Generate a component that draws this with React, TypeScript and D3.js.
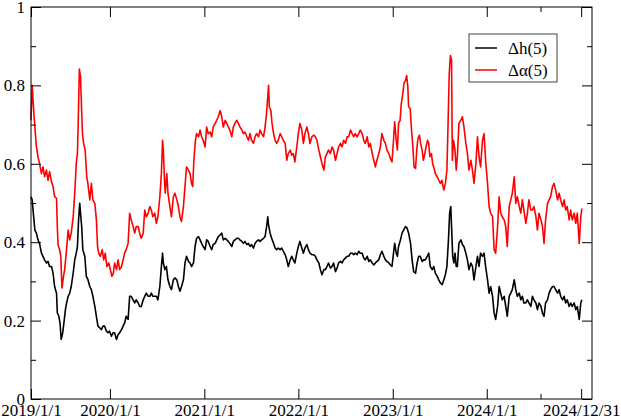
import { useEffect, useRef } from "react";
import * as d3 from "d3";

// x is a trading-day index counted from 2019/1/1
const tickDays = [0, 204, 448, 691, 935, 1178, 1422];
const tickLabels = ["2019/1/1", "2020/1/1", "2021/1/1", "2022/1/1", "2023/1/1", "2024/1/1", "2024/12/31"];
const minorTickDays = [1317];
const yMajor = [0, 0.2, 0.4, 0.6, 0.8, 1];
const yMinor = [0.1, 0.3, 0.5, 0.7, 0.9];
const seriesNames = ["\u0394h(5)", "\u0394\u03b1(5)"];
const seriesColors = ["#000000", "#ff0000"];

const deltaH: [number, number][] = [
  [0, 0.516], [3, 0.508], [6, 0.474], [10, 0.431], [14, 0.423], [18, 0.406], [22, 0.397], [27, 0.372],
  [31, 0.364], [35, 0.355], [40, 0.347], [44, 0.351], [48, 0.338], [53, 0.338], [57, 0.321], [61, 0.287],
  [66, 0.27], [68, 0.22], [72, 0.211], [75, 0.194], [78, 0.152], [82, 0.169], [85, 0.194], [89, 0.228],
  [92, 0.245], [96, 0.262], [100, 0.27], [104, 0.287], [109, 0.321], [113, 0.355], [117, 0.372], [120, 0.389],
  [123, 0.457], [126, 0.499], [128, 0.474], [131, 0.44], [134, 0.381], [139, 0.364], [143, 0.313], [147, 0.305],
  [152, 0.287], [156, 0.279], [160, 0.262], [165, 0.236], [169, 0.211], [173, 0.186], [178, 0.181], [182, 0.177],
  [186, 0.186], [190, 0.186], [195, 0.173], [199, 0.169], [203, 0.173], [208, 0.16], [212, 0.169], [216, 0.169],
  [221, 0.152], [225, 0.164], [229, 0.169], [234, 0.177], [238, 0.186], [242, 0.194], [246, 0.211], [251, 0.203],
  [255, 0.262], [259, 0.262], [264, 0.253], [268, 0.245], [272, 0.253], [277, 0.245], [281, 0.236], [285, 0.236],
  [290, 0.253], [294, 0.262], [298, 0.27], [303, 0.262], [307, 0.262], [311, 0.27], [315, 0.262], [320, 0.262],
  [324, 0.262], [328, 0.253], [333, 0.287], [337, 0.338], [340, 0.372], [342, 0.347], [346, 0.33], [350, 0.338],
  [354, 0.304], [359, 0.287], [363, 0.279], [368, 0.304], [372, 0.309], [377, 0.304], [381, 0.287], [385, 0.275],
  [389, 0.287], [394, 0.304], [398, 0.347], [402, 0.364], [407, 0.351], [411, 0.347], [415, 0.338], [420, 0.347],
  [424, 0.389], [428, 0.41], [433, 0.414], [437, 0.406], [441, 0.397], [445, 0.389], [450, 0.381], [454, 0.406],
  [458, 0.402], [463, 0.389], [467, 0.381], [471, 0.394], [476, 0.397], [480, 0.406], [484, 0.414], [489, 0.419],
  [493, 0.423], [497, 0.406], [502, 0.41], [506, 0.406], [510, 0.402], [514, 0.397], [519, 0.389], [523, 0.402],
  [527, 0.406], [532, 0.41], [536, 0.41], [540, 0.406], [545, 0.402], [549, 0.397], [553, 0.402], [558, 0.394],
  [562, 0.397], [566, 0.389], [570, 0.394], [575, 0.385], [579, 0.397], [583, 0.402], [588, 0.406], [592, 0.402],
  [596, 0.406], [601, 0.41], [605, 0.414], [609, 0.44], [612, 0.465], [614, 0.444], [618, 0.423], [622, 0.41],
  [627, 0.397], [631, 0.385], [635, 0.381], [639, 0.385], [644, 0.381], [648, 0.385], [652, 0.377], [657, 0.368],
  [661, 0.355], [665, 0.338], [670, 0.355], [674, 0.364], [678, 0.355], [682, 0.347], [687, 0.372], [691, 0.389],
  [695, 0.402], [700, 0.385], [704, 0.372], [708, 0.385], [713, 0.394], [717, 0.381], [721, 0.372], [726, 0.368],
  [731, 0.368], [735, 0.364], [739, 0.355], [744, 0.347], [748, 0.33], [752, 0.317], [757, 0.33], [761, 0.33],
  [765, 0.338], [769, 0.347], [774, 0.334], [778, 0.338], [782, 0.347], [787, 0.325], [791, 0.334], [795, 0.347],
  [800, 0.351], [804, 0.347], [808, 0.355], [813, 0.36], [817, 0.364], [821, 0.364], [826, 0.372], [830, 0.372],
  [834, 0.368], [838, 0.372], [843, 0.368], [847, 0.377], [851, 0.372], [856, 0.372], [860, 0.36], [864, 0.355],
  [869, 0.364], [873, 0.351], [877, 0.355], [882, 0.347], [886, 0.342], [890, 0.347], [894, 0.351], [899, 0.355],
  [903, 0.368], [907, 0.377], [912, 0.364], [916, 0.355], [920, 0.351], [925, 0.347], [929, 0.342], [933, 0.338],
  [937, 0.372], [940, 0.397], [944, 0.372], [947, 0.364], [950, 0.389], [955, 0.406], [959, 0.423], [963, 0.431],
  [968, 0.44], [972, 0.436], [976, 0.423], [981, 0.397], [985, 0.355], [989, 0.325], [994, 0.321], [998, 0.347],
  [1002, 0.364], [1006, 0.364], [1011, 0.351], [1015, 0.355], [1019, 0.355], [1024, 0.364], [1028, 0.372], [1032, 0.338],
  [1037, 0.33], [1041, 0.338], [1045, 0.321], [1050, 0.313], [1054, 0.304], [1058, 0.296], [1063, 0.292], [1067, 0.304],
  [1071, 0.317], [1075, 0.338], [1079, 0.406], [1082, 0.474], [1085, 0.491], [1087, 0.44], [1090, 0.364], [1093, 0.347],
  [1096, 0.372], [1099, 0.338], [1102, 0.338], [1106, 0.397], [1111, 0.406], [1115, 0.394], [1119, 0.389], [1124, 0.372],
  [1128, 0.355], [1132, 0.33], [1137, 0.347], [1141, 0.338], [1145, 0.304], [1150, 0.338], [1154, 0.364], [1158, 0.338],
  [1162, 0.372], [1167, 0.364], [1171, 0.372], [1175, 0.338], [1180, 0.304], [1184, 0.27], [1188, 0.287], [1193, 0.262],
  [1197, 0.219], [1201, 0.203], [1206, 0.236], [1210, 0.287], [1214, 0.27], [1218, 0.253], [1223, 0.262], [1227, 0.236],
  [1231, 0.211], [1236, 0.262], [1240, 0.27], [1244, 0.279], [1249, 0.304], [1253, 0.279], [1257, 0.262], [1262, 0.27],
  [1266, 0.253], [1270, 0.262], [1274, 0.245], [1279, 0.245], [1283, 0.253], [1287, 0.245], [1292, 0.236], [1296, 0.262],
  [1300, 0.253], [1305, 0.245], [1309, 0.228], [1313, 0.245], [1318, 0.236], [1322, 0.219], [1326, 0.211], [1330, 0.245],
  [1335, 0.253], [1339, 0.27], [1343, 0.279], [1348, 0.287], [1352, 0.287], [1356, 0.279], [1361, 0.27], [1365, 0.279],
  [1369, 0.262], [1374, 0.253], [1378, 0.262], [1382, 0.245], [1386, 0.253], [1391, 0.236], [1395, 0.245], [1399, 0.236],
  [1404, 0.245], [1408, 0.228], [1412, 0.236], [1417, 0.203], [1421, 0.245], [1424, 0.253],
];

const deltaAlpha: [number, number][] = [
  [0, 0.711], [3, 0.8], [8, 0.72], [14, 0.643], [18, 0.618], [22, 0.601], [27, 0.575], [31, 0.592],
  [35, 0.567], [40, 0.584], [44, 0.558], [48, 0.58], [53, 0.554], [57, 0.542], [61, 0.516], [66, 0.512],
  [68, 0.44], [70, 0.393], [74, 0.381], [77, 0.364], [80, 0.283], [84, 0.313], [87, 0.33], [91, 0.372],
  [96, 0.431], [100, 0.406], [104, 0.423], [109, 0.465], [113, 0.525], [117, 0.601], [120, 0.626], [122, 0.703],
  [125, 0.842], [128, 0.821], [130, 0.762], [133, 0.677], [136, 0.652], [140, 0.635], [144, 0.567], [147, 0.55],
  [152, 0.508], [156, 0.55], [160, 0.508], [165, 0.499], [169, 0.457], [172, 0.389], [175, 0.372], [179, 0.364],
  [184, 0.381], [188, 0.355], [192, 0.372], [196, 0.338], [201, 0.347], [205, 0.33], [209, 0.313], [213, 0.321],
  [216, 0.347], [221, 0.33], [225, 0.355], [229, 0.33], [234, 0.338], [238, 0.355], [242, 0.372], [246, 0.381],
  [251, 0.397], [255, 0.474], [259, 0.457], [264, 0.44], [268, 0.423], [272, 0.44], [277, 0.44], [281, 0.423],
  [285, 0.41], [290, 0.423], [294, 0.482], [298, 0.465], [303, 0.474], [307, 0.491], [311, 0.482], [315, 0.465],
  [320, 0.474], [324, 0.448], [328, 0.465], [333, 0.516], [337, 0.575], [340, 0.66], [342, 0.635], [345, 0.558],
  [347, 0.525], [351, 0.575], [354, 0.525], [359, 0.491], [363, 0.465], [368, 0.516], [372, 0.525], [377, 0.508],
  [381, 0.491], [385, 0.465], [389, 0.453], [394, 0.491], [398, 0.542], [402, 0.592], [407, 0.584], [411, 0.575],
  [415, 0.55], [418, 0.542], [421, 0.609], [425, 0.66], [428, 0.677], [433, 0.669], [437, 0.686], [441, 0.669],
  [445, 0.66], [450, 0.643], [454, 0.694], [458, 0.677], [463, 0.681], [467, 0.669], [471, 0.694], [476, 0.703],
  [480, 0.711], [484, 0.72], [489, 0.736], [493, 0.72], [497, 0.694], [502, 0.711], [506, 0.703], [510, 0.694],
  [514, 0.686], [519, 0.669], [523, 0.694], [527, 0.703], [532, 0.711], [536, 0.703], [540, 0.694], [545, 0.686],
  [549, 0.677], [553, 0.681], [558, 0.669], [562, 0.66], [566, 0.677], [570, 0.66], [575, 0.652], [579, 0.669],
  [583, 0.677], [588, 0.669], [592, 0.686], [596, 0.677], [601, 0.669], [605, 0.694], [608, 0.72], [612, 0.771],
  [614, 0.8], [616, 0.745], [620, 0.736], [623, 0.703], [627, 0.677], [631, 0.66], [635, 0.652], [639, 0.66],
  [644, 0.677], [648, 0.669], [652, 0.66], [657, 0.652], [661, 0.609], [665, 0.626], [670, 0.635], [674, 0.622],
  [678, 0.626], [682, 0.605], [687, 0.643], [691, 0.677], [695, 0.703], [700, 0.686], [704, 0.652], [708, 0.677],
  [713, 0.694], [717, 0.677], [721, 0.652], [726, 0.669], [731, 0.673], [735, 0.669], [739, 0.66], [744, 0.635],
  [748, 0.618], [752, 0.601], [757, 0.584], [761, 0.618], [765, 0.626], [769, 0.635], [774, 0.626], [778, 0.643],
  [782, 0.635], [787, 0.609], [791, 0.626], [795, 0.643], [800, 0.652], [804, 0.643], [808, 0.66], [813, 0.652],
  [817, 0.669], [821, 0.669], [826, 0.686], [830, 0.677], [834, 0.669], [838, 0.677], [843, 0.669], [847, 0.677],
  [851, 0.686], [856, 0.677], [860, 0.66], [864, 0.652], [869, 0.669], [873, 0.643], [877, 0.652], [882, 0.626],
  [886, 0.609], [890, 0.592], [894, 0.609], [899, 0.626], [903, 0.643], [907, 0.677], [912, 0.66], [916, 0.652],
  [920, 0.635], [925, 0.626], [929, 0.613], [933, 0.605], [937, 0.66], [940, 0.707], [944, 0.66], [947, 0.635],
  [950, 0.703], [954, 0.711], [957, 0.753], [961, 0.779], [964, 0.805], [968, 0.813], [971, 0.825], [974, 0.796],
  [976, 0.745], [980, 0.741], [983, 0.694], [987, 0.643], [990, 0.592], [994, 0.588], [997, 0.635], [1000, 0.664],
  [1004, 0.673], [1007, 0.652], [1011, 0.635], [1014, 0.609], [1018, 0.626], [1021, 0.643], [1025, 0.66], [1028, 0.652],
  [1031, 0.618], [1035, 0.626], [1038, 0.601], [1042, 0.588], [1045, 0.575], [1050, 0.567], [1054, 0.558], [1058, 0.55],
  [1062, 0.558], [1067, 0.533], [1071, 0.55], [1075, 0.584], [1078, 0.703], [1081, 0.83], [1084, 0.876], [1087, 0.864],
  [1089, 0.609], [1092, 0.66], [1096, 0.635], [1099, 0.584], [1102, 0.618], [1106, 0.703], [1111, 0.711], [1115, 0.72],
  [1119, 0.694], [1124, 0.652], [1128, 0.626], [1132, 0.584], [1137, 0.609], [1141, 0.584], [1145, 0.55], [1150, 0.601],
  [1154, 0.669], [1158, 0.618], [1162, 0.592], [1167, 0.66], [1171, 0.677], [1175, 0.609], [1180, 0.55], [1184, 0.491],
  [1188, 0.474], [1193, 0.465], [1197, 0.381], [1201, 0.372], [1206, 0.44], [1210, 0.516], [1214, 0.474], [1218, 0.465],
  [1223, 0.457], [1227, 0.44], [1231, 0.389], [1236, 0.491], [1240, 0.508], [1244, 0.525], [1249, 0.567], [1253, 0.499],
  [1257, 0.516], [1262, 0.491], [1266, 0.474], [1270, 0.508], [1274, 0.482], [1279, 0.448], [1283, 0.474], [1287, 0.508],
  [1292, 0.482], [1296, 0.482], [1300, 0.491], [1305, 0.465], [1309, 0.431], [1313, 0.474], [1318, 0.457], [1322, 0.44],
  [1326, 0.397], [1330, 0.457], [1335, 0.499], [1339, 0.508], [1343, 0.516], [1348, 0.542], [1352, 0.55], [1356, 0.533],
  [1361, 0.508], [1365, 0.525], [1369, 0.508], [1374, 0.491], [1378, 0.508], [1382, 0.482], [1386, 0.491], [1391, 0.457],
  [1395, 0.482], [1399, 0.457], [1404, 0.474], [1408, 0.448], [1412, 0.474], [1417, 0.397], [1421, 0.465], [1424, 0.486],
];

const FONT = "Liberation Serif, DejaVu Serif, serif";

export default function App() {
  const ref = useRef<SVGSVGElement>(null);
  const width = 621;
  const height = 419;

  useEffect(() => {
    const margin = { top: 7, right: 29, bottom: 20, left: 31 };
    const innerWidth = width - margin.left - margin.right;
    const innerHeight = height - margin.top - margin.bottom;

    const svg = d3.select(ref.current);
    svg.selectAll("*").remove();

    const g = svg.append("g").attr("transform", `translate(${margin.left},${margin.top})`);

    const x = d3.scaleLinear().domain([0, 1450]).range([0, innerWidth]);
    const y = d3.scaleLinear().domain([0, 1]).range([innerHeight, 0]);

    const line = d3
      .line<[number, number]>()
      .x((d) => x(d[0]))
      .y((d) => y(d[1]));

    // data lines
    [deltaH, deltaAlpha].forEach((series, i) => {
      g.append("path")
        .datum(series)
        .attr("fill", "none")
        .attr("stroke", seriesColors[i])
        .attr("stroke-width", 1.6)
        .attr("stroke-linejoin", "round")
        .attr("d", line);
    });

    const styleAxis = (sel: any) => {
      sel.select(".domain").remove();
      sel.attr("font-family", null).attr("font-size", null);
      sel.selectAll("line").attr("stroke", "#000").attr("stroke-width", 1);
      sel.selectAll("text")
        .style("font-family", FONT)
        .style("font-size", "17px")
        .attr("fill", "#000");
    };

    // bottom
    g.append("g")
      .attr("transform", `translate(0,${innerHeight})`)
      .call(
        d3.axisBottom(x)
          .tickValues(tickDays)
          .tickFormat((_d, i) => tickLabels[i])
          .tickSizeInner(-10)
          .tickSizeOuter(0)
          .tickPadding(5)
      )
      .call(styleAxis);
    g.append("g")
      .attr("transform", `translate(0,${innerHeight})`)
      .call(d3.axisBottom(x).tickValues(minorTickDays).tickFormat(() => "").tickSizeInner(-5).tickSizeOuter(0))
      .call(styleAxis);

    // top
    g.append("g")
      .call(d3.axisTop(x).tickValues(tickDays).tickFormat(() => "").tickSizeInner(-10).tickSizeOuter(0))
      .call(styleAxis);
    g.append("g")
      .call(d3.axisTop(x).tickValues(minorTickDays).tickFormat(() => "").tickSizeInner(-5).tickSizeOuter(0))
      .call(styleAxis);

    // left
    g.append("g")
      .call(
        d3.axisLeft(y)
          .tickValues(yMajor)
          .tickFormat((d) => (d === 0 || d === 1 ? String(d) : d3.format(".1f")(d as number)))
          .tickSizeInner(-10)
          .tickSizeOuter(0)
          .tickPadding(6)
      )
      .call(styleAxis);
    g.append("g")
      .call(d3.axisLeft(y).tickValues(yMinor).tickFormat(() => "").tickSizeInner(-5).tickSizeOuter(0))
      .call(styleAxis);

    // right
    g.append("g")
      .attr("transform", `translate(${innerWidth},0)`)
      .call(d3.axisRight(y).tickValues(yMajor).tickFormat(() => "").tickSizeInner(-10).tickSizeOuter(0))
      .call(styleAxis);
    g.append("g")
      .attr("transform", `translate(${innerWidth},0)`)
      .call(d3.axisRight(y).tickValues(yMinor).tickFormat(() => "").tickSizeInner(-5).tickSizeOuter(0))
      .call(styleAxis);

    // frame
    g.append("rect")
      .attr("x", 0)
      .attr("y", 0)
      .attr("width", innerWidth)
      .attr("height", innerHeight)
      .attr("fill", "none")
      .attr("stroke", "#000")
      .attr("stroke-width", 1);

    // legend
    const legend = svg.append("g").attr("transform", "translate(469,34)");
    legend.append("rect")
      .attr("width", 88)
      .attr("height", 48)
      .attr("fill", "#fff")
      .attr("stroke", "#444")
      .attr("stroke-width", 1);
    seriesNames.forEach((name, i) => {
      const row = legend.append("g").attr("transform", `translate(0,${14 + i * 22})`);
      row.append("line")
        .attr("x1", 6)
        .attr("x2", 28)
        .attr("stroke", seriesColors[i])
        .attr("stroke-width", 1.5);
      row.append("text")
        .attr("x", 39)
        .attr("y", 5.5)
        .style("font-family", FONT)
        .style("font-size", "17px")
        .text(name);
    });
  }, []);

  return (
    <svg
      ref={ref}
      width={width}
      height={height}
      style={{ position: "absolute", left: 0, top: 0, background: "#fff" }}
    ></svg>
  );
}
